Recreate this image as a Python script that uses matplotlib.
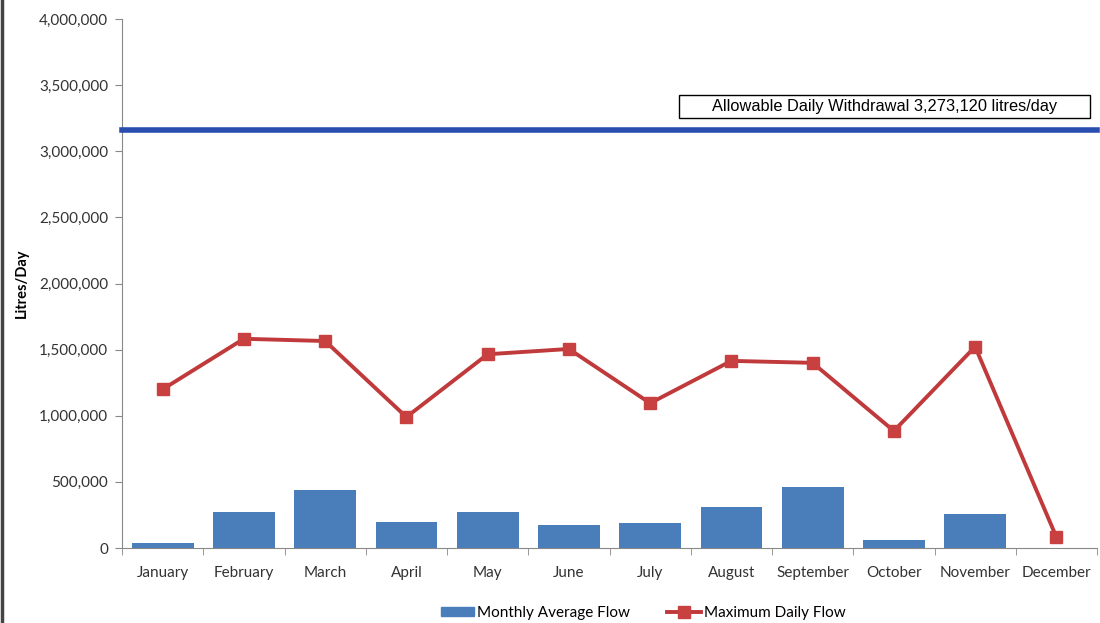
import numpy as np
import matplotlib
matplotlib.use("Agg")
import matplotlib.pyplot as plt
from matplotlib.patches import Rectangle, Patch
from matplotlib.lines import Line2D
from matplotlib.ticker import FuncFormatter

# Datos
months = ["January", "February", "March", "April", "May", "June", "July",
          "August", "September", "October", "November", "December"]
monthly_avg = [40000, 270000, 440000, 200000, 272000, 174000, 187000,
               312000, 463000, 58000, 255000, 0]
max_daily = [1200000, 1582000, 1565000, 990000, 1465000, 1505000, 1095000,
             1415000, 1400000, 885000, 1522000, 83000]
limit_line = 3160000
limit_label = "Allowable Daily Withdrawal 3,273,120 litres/day"

plt.rcParams['font.family'] = ['Lato', 'DejaVu Sans']

fig = plt.figure(figsize=(11, 6.23), dpi=100)
ax = fig.add_axes([122 / 1100, 1 - 548 / 623, (1097 - 122) / 1100, (548 - 19) / 623])

x = np.arange(len(months))
ax.bar(x, monthly_avg, width=0.76, color="#4a7ebb", zorder=2)
ax.plot(x, max_daily, color="#c0393b", lw=2.8, marker="s", ms=9,
        markerfacecolor="#c84040", markeredgecolor="#c84040", zorder=3)
ax.axhline(limit_line, color="#2a4db0", lw=4, zorder=4, clip_on=False)

# cuadro de texto del límite
ax.add_patch(Rectangle((0.571, 0.813), 0.4215, 0.0435, transform=ax.transAxes,
                       fc="white", ec="black", lw=1, zorder=5, clip_on=False))
ax.text(0.782, 0.835, limit_label, transform=ax.transAxes, ha="center", va="center",
        fontsize=11.8, family="Liberation Sans", zorder=6)

ax.set_xlim(-0.5, len(months) - 0.5)
ax.set_ylim(0, 4000000)
ax.set_yticks(np.arange(0, 4000001, 500000))
ax.yaxis.set_major_formatter(FuncFormatter(lambda v, p: f"{int(v):,}"))
ax.set_xticks(x)
ax.set_xticklabels(months)
ax.set_xticks(np.arange(-0.5, len(months)), minor=True)
ax.tick_params(axis="x", which="major", length=0, pad=13, labelsize=11, colors="#333333")
ax.tick_params(axis="x", which="minor", length=5, color="#888888")
ax.tick_params(axis="y", length=5, color="#888888", labelsize=11, labelcolor="#333333", pad=5)

for s in ["top", "right"]:
    ax.spines[s].set_visible(False)
ax.spines["left"].set_color("#888888")
ax.spines["bottom"].set_color("#888888")

ax.set_ylabel("Litres/Day", fontsize=10.5, fontweight="bold")
ax.yaxis.set_label_coords(-0.096, 0.5)

handles = [Patch(color="#4a7ebb"),
           Line2D([], [], color="#c0393b", lw=2.8, marker="s", ms=9,
                  markerfacecolor="#c84040", markeredgecolor="#c84040")]
fig.legend(handles, ["Monthly Average Flow", "Maximum Daily Flow"],
           loc="center", bbox_to_anchor=(643 / 1100, 1 - 613 / 623), ncol=2, frameon=False,
           fontsize=11, handlelength=2.2, handletextpad=0.2, columnspacing=2.4,
           handleheight=0.6)

# borde oscuro a la izquierda
fig.add_artist(Line2D([0.002, 0.002], [0, 1], color="#444444", lw=2.5,
                      transform=fig.transFigure))

fig.savefig("out.png", dpi=100)
